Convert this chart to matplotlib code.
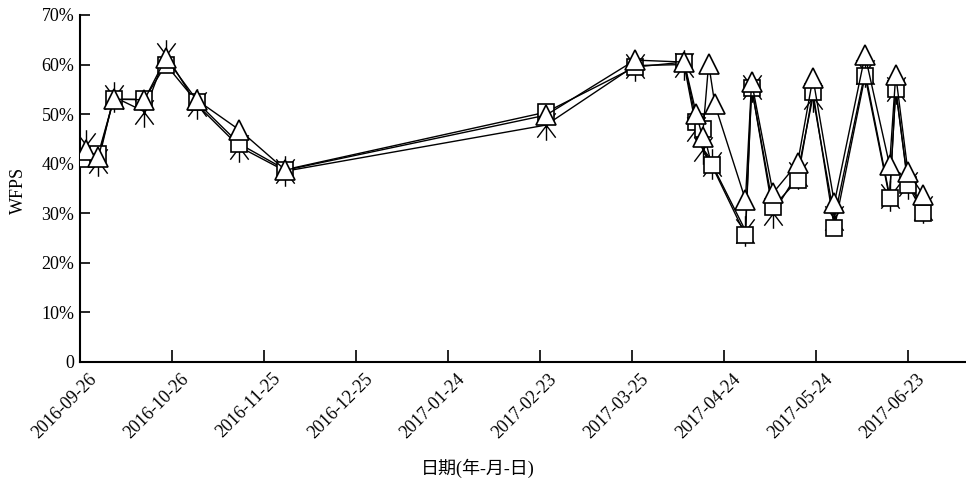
import numpy as np
import pandas as pd
import matplotlib
matplotlib.use("Agg")
import matplotlib.pyplot as plt
import matplotlib.dates as mdates
import matplotlib.transforms as mtransforms
from matplotlib.path import Path
from matplotlib.ticker import FuncFormatter

plt.rcParams["font.family"] = ["Liberation Serif", "Noto Sans CJK SC"]

# ── WFPS readings for three probes ────────────────────────────
dates_sq = ["2016-09-28", "2016-10-02", "2016-10-07", "2016-10-17", "2016-10-24",
            "2016-11-03", "2016-11-17", "2016-12-02", "2017-02-25", "2017-03-26",
            "2017-04-11", "2017-04-15", "2017-04-17", "2017-04-20", "2017-05-01",
            "2017-05-03", "2017-05-10", "2017-05-18", "2017-05-23", "2017-05-30",
            "2017-06-09", "2017-06-17", "2017-06-19", "2017-06-23", "2017-06-28"]
wfps_sq = [41.0, 42.0, 53.0, 53.0, 60.0,
           52.5, 44.0, 38.8, 50.4, 59.5,
           60.5, 48.5, 47.0, 39.7, 25.6,
           55.3, 31.3, 36.7, 54.5, 27.0,
           57.7, 33.1, 55.1, 35.7, 30.0]

dates_tri = ["2016-09-28", "2016-10-02", "2016-10-07", "2016-10-17", "2016-10-24",
             "2016-11-03", "2016-11-17", "2016-12-02", "2017-02-25", "2017-03-26",
             "2017-04-11", "2017-04-15", "2017-04-17", "2017-04-19", "2017-04-21",
             "2017-05-01", "2017-05-03", "2017-05-10", "2017-05-18", "2017-05-23",
             "2017-05-30", "2017-06-09", "2017-06-17", "2017-06-19", "2017-06-23",
             "2017-06-28"]
wfps_tri = [42.8, 41.4, 53.0, 52.9, 61.3,
            52.9, 46.8, 38.7, 49.8, 60.9,
            60.5, 50.0, 45.4, 60.2, 52.0,
            32.7, 56.5, 34.1, 40.1, 57.3,
            32.1, 61.9, 39.7, 57.9, 38.3,
            33.7]

dates_ast = ["2016-09-28", "2016-10-02", "2016-10-07", "2016-10-17", "2016-10-24",
             "2016-11-03", "2016-11-17", "2016-12-02", "2017-02-25", "2017-03-26",
             "2017-04-11", "2017-04-15", "2017-04-17", "2017-04-20", "2017-05-01",
             "2017-05-03", "2017-05-10", "2017-05-18", "2017-05-23", "2017-05-30",
             "2017-06-09", "2017-06-17", "2017-06-19", "2017-06-23", "2017-06-28"]
wfps_ast = [43.8, 40.5, 53.5, 50.5, 62.0,
            52.0, 43.4, 38.5, 47.8, 59.8,
            60.0, 47.0, 43.0, 40.0, 26.5,
            55.5, 30.0, 38.0, 53.5, 29.0,
            58.5, 33.5, 55.0, 36.0, 31.0]

tick_start = "2016-09-26"
x_end = "2017-07-11 22:00"

# six-armed asterisk: one vertical bar and two steep diagonals
_a = np.deg2rad(53)
_c, _s = np.cos(_a), np.sin(_a)
asterisk = Path([(0, -1), (0, 1), (-_c, -_s), (_c, _s), (-_c, _s), (_c, -_s)],
                [Path.MOVETO, Path.LINETO] * 3)

fig = plt.figure(figsize=(9.66, 4.88), dpi=100)
ax = fig.add_axes([0.0828, 0.2582, 0.9172, 0.7111])

ax.plot(pd.to_datetime(dates_ast), wfps_ast, color="black", lw=1.0,
        marker=asterisk, ms=22, mew=1.0, mec="black", zorder=2)
ax.plot(pd.to_datetime(dates_sq), wfps_sq, color="black", lw=1.0,
        marker="s", ms=11, mew=1.2, mfc="white", mec="black", zorder=3)
ax.plot(pd.to_datetime(dates_tri), wfps_tri, color="black", lw=1.0,
        marker="^", ms=15, mew=1.2, mfc="white", mec="black", zorder=4)

ax.set_xlim(pd.Timestamp(tick_start), pd.Timestamp(x_end))
ax.set_ylim(0, 70)
ax.set_xticks(pd.date_range(tick_start, periods=10, freq="30D"))
ax.xaxis.set_major_formatter(mdates.DateFormatter("%Y-%m-%d"))
ax.set_yticks(np.arange(0, 71, 10))
ax.yaxis.set_major_formatter(FuncFormatter(lambda v, _: "0" if v == 0 else f"{v:.0f}%"))

for side in ("top", "right"):
    ax.spines[side].set_visible(False)
for side in ("left", "bottom"):
    ax.spines[side].set_linewidth(1.5)
ax.tick_params(axis="x", direction="in", length=9, width=1.2, labelsize=13, pad=6)
ax.tick_params(axis="y", direction="in", length=7, width=1.2, labelsize=13, pad=4)

# rotated date labels, nudged right so their upper end sits past the tick
shift = mtransforms.ScaledTranslation(6 / 72, 0, fig.dpi_scale_trans)
for lab in ax.get_xticklabels():
    lab.set_rotation(45)
    lab.set_ha("right")
    lab.set_va("top")
    lab.set_rotation_mode("anchor")
    lab.set_transform(lab.get_transform() + shift)

fig.text(0.019, 0.61, "WFPS", rotation=90, ha="center", va="center", fontsize=13)
fig.text(0.495, 0.04, "日期(年-月-日)", ha="center", va="center", fontsize=13)

fig.savefig("out.png", dpi=100)
